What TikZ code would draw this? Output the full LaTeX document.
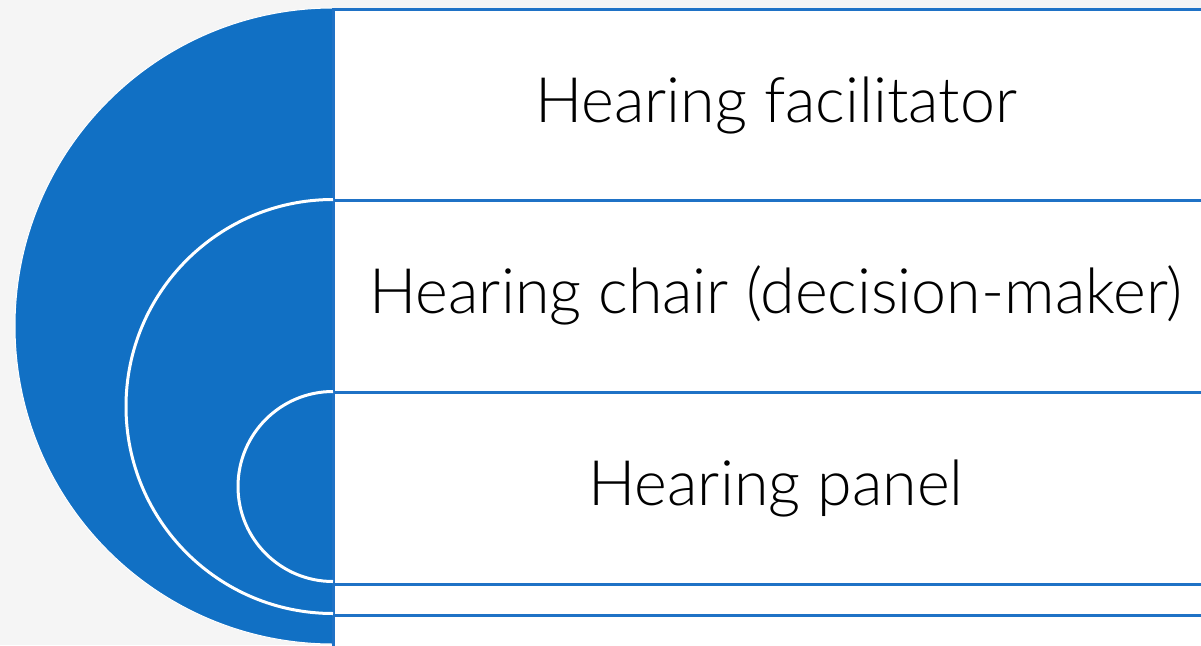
\documentclass[tikz,border=0pt]{standalone}
\usepackage{fontspec}
\setmainfont{Lato Light}
\definecolor{discblue}{HTML}{1170C4}
\definecolor{lineblue}{HTML}{1F72C6}
\definecolor{bggrey}{HTML}{F5F5F5}
\begin{document}
\begin{tikzpicture}[x=1pt,y=-1pt,
  rowbox/.style={draw=lineblue, line width=3pt, fill=white, minimum width=888pt, anchor=north west, inner sep=0pt},
  rowtext/.style={font=\fontsize{62.7}{72}\selectfont, text=black},
  ring/.style={draw=white, line width=3pt}]
\fill[bggrey] (0,0) rectangle (1201,645);
\useasboundingbox (0,0) rectangle (1201,645);
% big half disc
\fill[discblue, draw=white, line width=1pt] (333,8) arc[start angle=270, end angle=90, radius=318] -- cycle;
% rows
\node[rowbox, minimum height=191pt] (r1) at (332,8) {};
\node[rowbox, minimum height=192pt] (r2) at (332,199) {};
\node[rowbox, minimum height=192pt] (r3) at (332,391) {};
\node[rowbox, minimum height=31pt] (r4) at (332,583) {};
\node[rowbox, minimum height=60pt] (r5) at (332,614) {};
% texts
\node[rowtext, anchor=base] (t1) at (776,122) {Hearing facilitator};
\node[rowtext, anchor=base] (t2) at (776,313) {Hearing chair (decision-maker)};
\node[rowtext, anchor=base] (t3) at (776,505) {Hearing panel};
% inner rings
\draw[ring] (333,199.5) arc[start angle=270, end angle=90, radius=207];
\draw[ring] (333,391.5) arc[start angle=270, end angle=90, radius=95];
\end{tikzpicture}
\end{document}
